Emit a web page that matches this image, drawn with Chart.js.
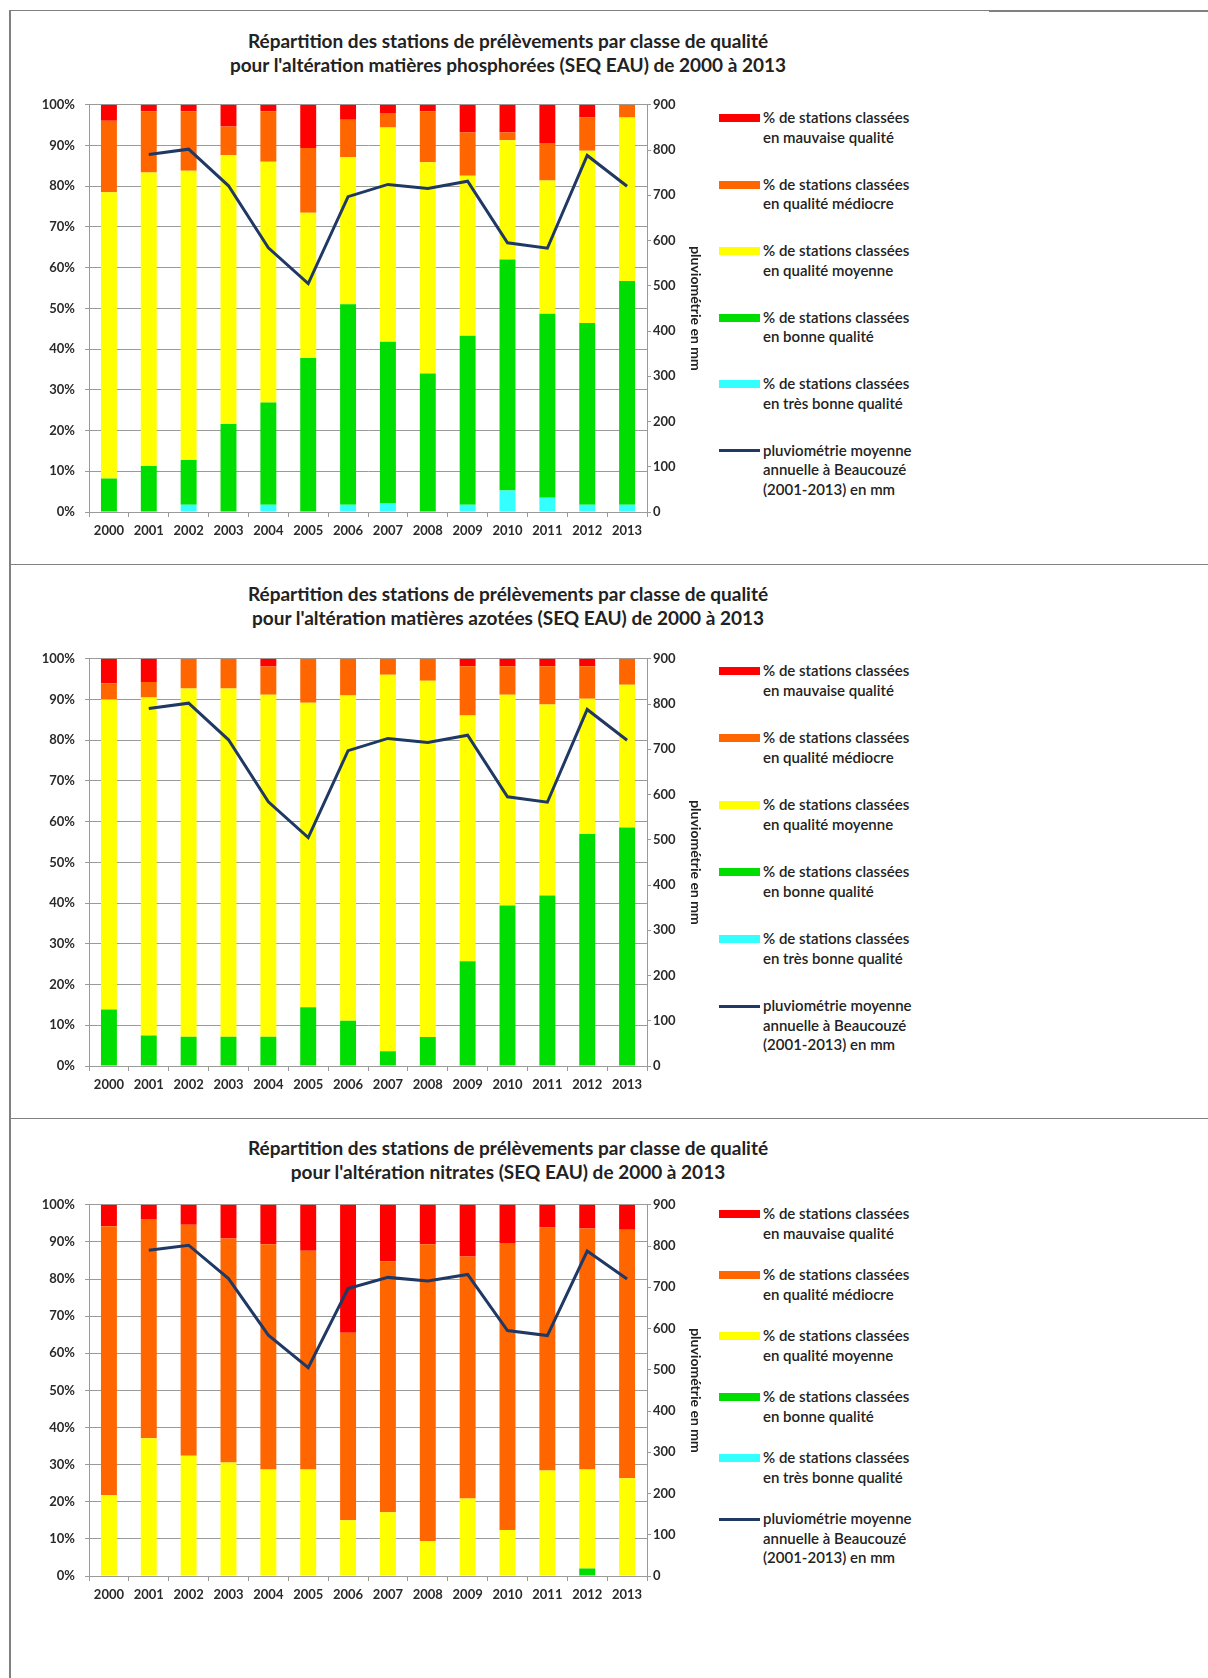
<!DOCTYPE html>
<html lang="fr">
<head>
<meta charset="utf-8">
<title>Répartition des stations de prélèvements par classe de qualité</title>
<script src="https://cdn.jsdelivr.net/npm/chart.js@4.4.0/dist/chart.umd.min.js"></script>
<style>
    body { margin: 0; background: #fff; font-family: Lato, "Open Sans", sans-serif; color: #222; }
    #page { position: relative; width: 1208px; height: 1678px; overflow: hidden; background: #fff; }
    .trait { position: absolute; background: #808080; }
    .titre { position: absolute; left: 0; width: 1016px; text-align: center; font-weight: bold; font-size: 19px; line-height: 24px; color: #222; }
    canvas { position: absolute; left: 20px; }
    .leg { position: absolute; left: 719px; width: 240px; height: 60px; font-size: 15px; line-height: 19.5px; font-weight: 600; color: #222; }
    .leg .case { position: absolute; left: 0; width: 41px; }
    .leg .texte { position: absolute; left: 44px; top: 0; white-space: nowrap; }
</style>
</head>
<body>
<div id="page">
    <div class="trait" style="left:9px;top:10px;width:2px;height:1668px"></div>
    <div class="trait" style="left:9px;top:10px;width:980px;height:1px"></div>
    <div class="trait" style="left:989px;top:10px;width:219px;height:2px"></div>
    <div class="trait" style="left:9px;top:564px;width:1199px;height:1px"></div>
    <div class="trait" style="left:9px;top:1118px;width:1199px;height:1px"></div>

    <div class="titre" style="top:29px">Répartition des stations de prélèvements par classe de qualité<br>pour l'altération matières phosphorées (SEQ EAU) de 2000 à 2013</div>
    <canvas id="graphPhosphore" width="685" height="460" style="top:87px"></canvas>

    <div class="titre" style="top:582px">Répartition des stations de prélèvements par classe de qualité<br>pour l'altération matières azotées (SEQ EAU) de 2000 à 2013</div>
    <canvas id="graphAzote" width="685" height="460" style="top:641px"></canvas>

    <div class="titre" style="top:1136px">Répartition des stations de prélèvements par classe de qualité<br>pour l'altération nitrates (SEQ EAU) de 2000 à 2013</div>
    <canvas id="graphNitrates" width="685" height="424" style="top:1187px"></canvas>
</div>

<script>
// Données
const annees = ['2000', '2001', '2002', '2003', '2004', '2005', '2006', '2007', '2008', '2009', '2010', '2011', '2012', '2013'];
const pluviometrie = [null, 790, 802, 721, 584, 505, 697, 724, 715, 731, 595, 583, 788, 720]; // mm

// matières phosphorées (%)
const phosTresBonne = [0, 0, 1.8, 0, 1.8, 0, 1.8, 2.2, 0, 1.8, 5.3, 3.5, 1.8, 1.8];
const phosBonne     = [8.2, 11.3, 11.0, 21.6, 25.1, 37.8, 49.2, 39.6, 34.0, 41.5, 56.7, 45.2, 44.6, 54.9];
const phosMoyenne   = [70.3, 72.1, 71.0, 66.0, 59.1, 35.7, 36.2, 52.6, 51.9, 39.3, 29.3, 32.7, 42.3, 40.2];
const phosMediocre  = [17.6, 15.0, 14.6, 7.1, 12.4, 15.9, 9.1, 3.6, 12.5, 10.6, 1.9, 9.2, 8.2, 3.1];
const phosMauvaise  = [3.9, 1.6, 1.6, 5.3, 1.6, 10.6, 3.7, 2.0, 1.6, 6.8, 6.8, 9.4, 3.1, 0];

// matières azotées (%)
const azoTresBonne = [0, 0, 0, 0, 0, 0, 0, 0, 0, 0, 0, 0, 0, 0];
const azoBonne     = [13.9, 7.5, 7.2, 7.2, 7.2, 14.4, 11.1, 3.6, 7.1, 25.7, 39.4, 41.9, 57.0, 58.6];
const azoMoyenne   = [76.1, 83.0, 85.5, 85.5, 84.0, 74.8, 79.9, 92.5, 87.5, 60.4, 51.8, 46.9, 33.2, 35.0];
const azoMediocre  = [4.0, 3.8, 7.3, 7.3, 6.9, 10.8, 9.0, 3.9, 5.4, 12.1, 7.0, 9.4, 8.0, 6.4];
const azoMauvaise  = [6.0, 5.7, 0, 0, 1.9, 0, 0, 0, 0, 1.8, 1.8, 1.8, 1.8, 0];

// nitrates (%)
const nitTresBonne = [0, 0, 0, 0, 0, 0, 0, 0, 0, 0, 0, 0, 0, 0];
const nitBonne     = [0, 0, 0, 0, 0, 0, 0, 0, 0, 0, 0, 0, 2.0, 0];
const nitMoyenne   = [21.8, 37.1, 32.4, 30.6, 28.7, 28.7, 15.0, 17.2, 9.4, 20.9, 12.4, 28.4, 26.7, 26.3];
const nitMediocre  = [72.4, 59.1, 62.2, 60.3, 60.7, 58.9, 50.5, 67.6, 80.0, 65.2, 77.3, 65.5, 64.9, 67.0];
const nitMauvaise  = [5.8, 3.8, 5.4, 9.1, 10.6, 12.4, 34.5, 15.2, 10.6, 13.9, 10.3, 6.1, 6.4, 6.7];

const libelles = {
    mauvaise: "% de stations classées\nen mauvaise qualité",
    mediocre: "% de stations classées\nen qualité médiocre",
    moyenne: "% de stations classées\nen qualité moyenne",
    bonne: "% de stations classées\nen bonne qualité",
    tresBonne: "% de stations classées\nen très bonne qualité",
    pluvio: "pluviométrie moyenne\nannuelle à Beaucouzé\n(2001-2013) en mm"
};

const couleurs = {
    mauvaise: '#FF0000',
    mediocre: '#FF6600',
    moyenne: '#FFFF00',
    bonne: '#00DD00',
    tresBonne: '#33FFFF',
    pluvio: '#1F3864'
};

const policeAxes = { family: 'Lato, "Open Sans", sans-serif', size: 13, weight: 'bold' };
const gris = '#9a9a9a';

function creerGraphique(idCanvas, tresBonne, bonne, moyenne, mediocre, mauvaise) {
    const ctx = document.getElementById(idCanvas).getContext('2d');
    const barre = (cle, valeurs) => ({
        type: 'bar',
        label: libelles[cle],
        data: valeurs,
        backgroundColor: couleurs[cle],
        borderWidth: 0,
        yAxisID: 'y',
        order: 1,
        categoryPercentage: 1.0,
        barPercentage: 0.4
    });

    return new Chart(ctx, {
        data: {
            labels: annees,
            datasets: [
                {
                    type: 'line',
                    label: libelles.pluvio,
                    data: pluviometrie,
                    yAxisID: 'y1',
                    borderColor: couleurs.pluvio,
                    backgroundColor: couleurs.pluvio,
                    borderWidth: 3,
                    pointRadius: 0,
                    tension: 0,
                    order: 0
                },
                barre('tresBonne', tresBonne),
                barre('bonne', bonne),
                barre('moyenne', moyenne),
                barre('mediocre', mediocre),
                barre('mauvaise', mauvaise)
            ]
        },
        options: {
            responsive: false,
            animation: false,
            layout: { padding: 0 },
            plugins: {
                legend: { display: false },
                tooltip: { enabled: false }
            },
            scales: {
                x: {
                    stacked: true,
                    offset: true,
                    grid: { offset: true, drawOnChartArea: false, tickLength: 5, color: gris },
                    border: { color: gris },
                    ticks: { font: policeAxes, color: '#2a2a2a', padding: 6, maxRotation: 0 },
                    afterFit: function(s) { s.height = 35; }
                },
                y: {
                    stacked: true,
                    position: 'left',
                    min: 0,
                    max: 100,
                    grid: { color: gris, tickLength: 4 },
                    border: { color: gris },
                    ticks: {
                        stepSize: 10,
                        font: policeAxes,
                        color: '#2a2a2a',
                        padding: 10,
                        callback: function(v) { return v + '%'; }
                    },
                    afterFit: function(s) { s.width = 69; }
                },
                y1: {
                    position: 'right',
                    min: 0,
                    max: 900,
                    grid: { drawOnChartArea: false, tickLength: 4, color: gris },
                    border: { color: gris },
                    ticks: { stepSize: 100, font: policeAxes, color: '#2a2a2a', padding: 2 },
                    title: {
                        display: true,
                        text: 'pluviométrie en mm',
                        font: { family: 'Lato, "Open Sans", sans-serif', size: 14, weight: 'bold' },
                        color: '#222',
                        padding: { top: 1, bottom: 1 }
                    },
                    afterFit: function(s) { s.width = 58; }
                }
            }
        }
    });
}

function construireLegende(graphique, haut, ecart) {
    const page = document.getElementById('page');
    const ordre = [5, 4, 3, 2, 1, 0]; // du rouge vers la courbe
    ordre.forEach((indice, i) => {
        const ds = graphique.data.datasets[indice];
        const item = document.createElement('div');
        item.className = 'leg';
        item.style.top = (haut + i * ecart - 9.75) + 'px';

        const cas = document.createElement('div');
        cas.className = 'case';
        cas.style.background = ds.type === 'line' ? ds.borderColor : ds.backgroundColor;
        if (ds.type === 'line') {
            cas.style.top = '8.25px';
            cas.style.height = '3px';
        } else {
            cas.style.top = '5.75px';
            cas.style.height = '8px';
        }
        item.appendChild(cas);

        const texte = document.createElement('div');
        texte.className = 'texte';
        texte.innerHTML = ds.label.split('\n').join('<br>');
        item.appendChild(texte);

        page.appendChild(item);
    });
}

const g1 = creerGraphique('graphPhosphore', phosTresBonne, phosBonne, phosMoyenne, phosMediocre, phosMauvaise);
const g2 = creerGraphique('graphAzote', azoTresBonne, azoBonne, azoMoyenne, azoMediocre, azoMauvaise);
const g3 = creerGraphique('graphNitrates', nitTresBonne, nitBonne, nitMoyenne, nitMediocre, nitMauvaise);

construireLegende(g1, 118, 66.5);
construireLegende(g2, 671, 67);
construireLegende(g3, 1214, 61);
</script>
</body>
</html>
